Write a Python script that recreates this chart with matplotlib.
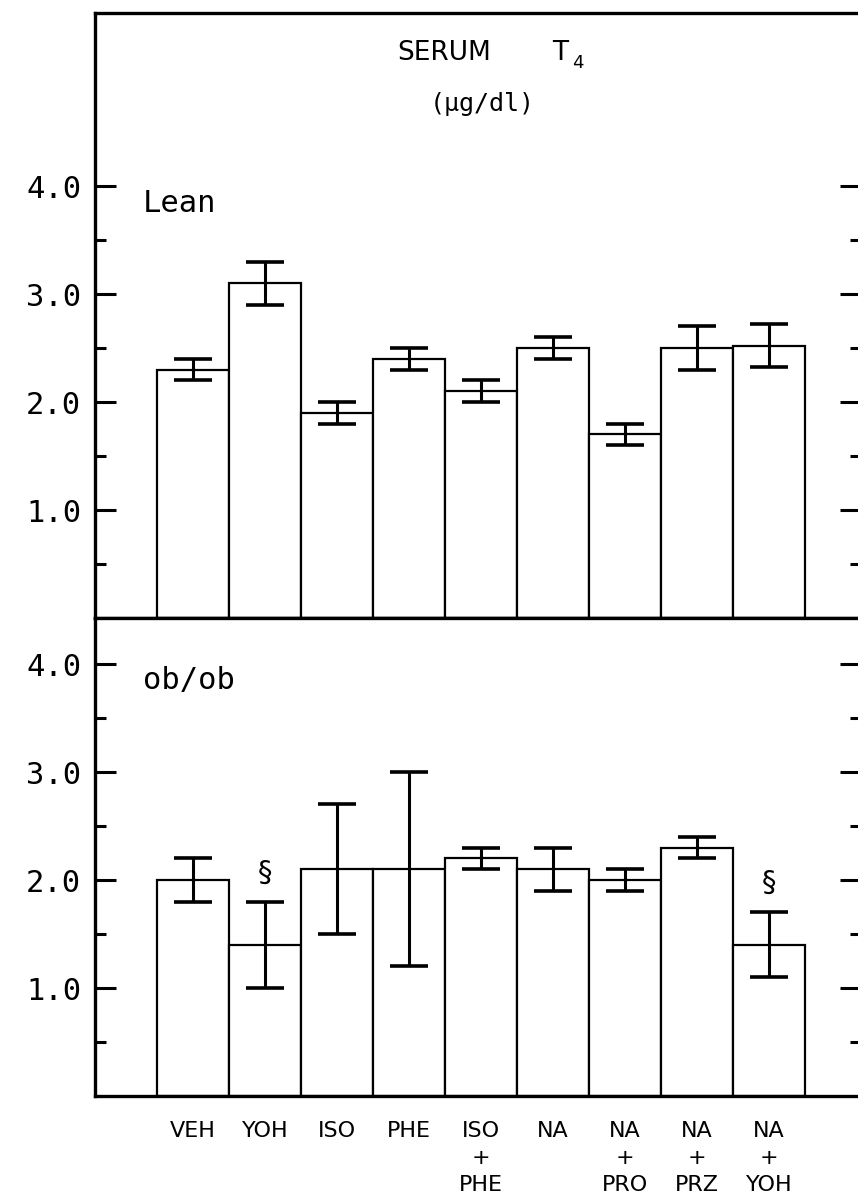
import matplotlib
matplotlib.use("Agg")
import matplotlib.pyplot as plt

# Treatment groups (multi-line labels under the lower panel)
groups = ["VEH", "YOH", "ISO", "PHE", "ISO\n+\nPHE", "NA", "NA\n+\nPRO", "NA\n+\nPRZ", "NA\n+\nYOH"]

# Serum T4 (ug/dl), mean and SEM
lean_mean = [2.3, 3.1, 1.9, 2.4, 2.1, 2.5, 1.7, 2.5, 2.52]
lean_sem = [0.1, 0.2, 0.1, 0.1, 0.1, 0.1, 0.1, 0.2, 0.2]

ob_mean = [2.0, 1.4, 2.1, 2.1, 2.2, 2.1, 2.0, 2.3, 1.4]
ob_sem = [0.2, 0.4, 0.6, 0.9, 0.1, 0.2, 0.1, 0.1, 0.3]
ob_marked = [False, True, False, False, False, False, False, False, True]

W, H = 858, 1201
fig = plt.figure(figsize=(W / 100, H / 100), dpi=100)

left_px, right_px = 95, 861
top_px, mid_px, bot_px = 13, 618, 1096
unit_px = 108.0


def axes_rect(t, b):
    return [left_px / W, 1 - b / H, (right_px - left_px) / W, (b - t) / H]


ax_top = fig.add_axes(axes_rect(top_px, mid_px))
ax_bot = fig.add_axes(axes_rect(mid_px, bot_px))

x = list(range(len(groups)))
mono = "DejaVu Sans Mono"


def style_panel(ax, ymax):
    ax.set_xlim(-1.36, 9.28)
    ax.set_ylim(0, ymax)
    for s in ax.spines.values():
        s.set_linewidth(2.4)
    ax.set_yticks([1, 2, 3, 4])
    ax.set_yticks([0.5, 1.5, 2.5, 3.5], minor=True)
    ax.set_yticklabels(["1.0", "2.0", "3.0", "4.0"], fontfamily=mono, fontsize=22)
    ax.tick_params(axis="y", which="major", direction="in", length=15, width=2.2,
                   left=True, right=True, pad=10)
    ax.tick_params(axis="y", which="minor", direction="in", length=8, width=2.2,
                   left=True, right=True)
    ax.tick_params(axis="x", which="both", length=0)


def draw_bars(ax, means, sems):
    ax.bar(x, means, width=1.0, facecolor="white", edgecolor="black",
           linewidth=1.6, zorder=2)
    ax.errorbar(x, means, yerr=sems, fmt="none", ecolor="black",
                elinewidth=2.2, capsize=14, capthick=2.6, zorder=3)


style_panel(ax_top, (mid_px - top_px) / unit_px)
style_panel(ax_bot, (bot_px - mid_px) / unit_px)

draw_bars(ax_top, lean_mean, lean_sem)
draw_bars(ax_bot, ob_mean, ob_sem)

ax_top.set_xticks([])
ax_bot.set_xticks(x)
ax_bot.set_xticklabels(groups, fontsize=16, fontfamily="DejaVu Sans",
                       linespacing=1.45, va="top")
ax_bot.tick_params(axis="x", pad=18)

# significance marks above selected ob/ob bars
for xi, m, s, flag in zip(x, ob_mean, ob_sem, ob_marked):
    if flag:
        ax_bot.text(xi, m + s + 0.27, "§", ha="center", va="center",
                    fontsize=21, fontfamily="DejaVu Sans")

# title block
fig.text(397 / W, 1 - 53 / H, "SERUM", ha="left", va="center",
         fontsize=19, fontfamily="DejaVu Sans")
fig.text(552 / W, 1 - 53 / H, "T", ha="left", va="center",
         fontsize=19, fontfamily="DejaVu Sans")
fig.text(572 / W, 1 - 63 / H, "4", ha="left", va="center",
         fontsize=13, fontfamily="DejaVu Sans")
fig.text(482 / W, 1 - 104 / H, "(µg/dl)", ha="center", va="center",
         fontsize=18, fontfamily=mono)

# panel labels
fig.text(143 / W, 1 - 204 / H, "Lean", ha="left", va="center",
         fontsize=22, fontfamily=mono)
fig.text(143 / W, 1 - 680 / H, "ob/ob", ha="left", va="center",
         fontsize=22, fontfamily=mono)

fig.savefig("out.png", dpi=100)
